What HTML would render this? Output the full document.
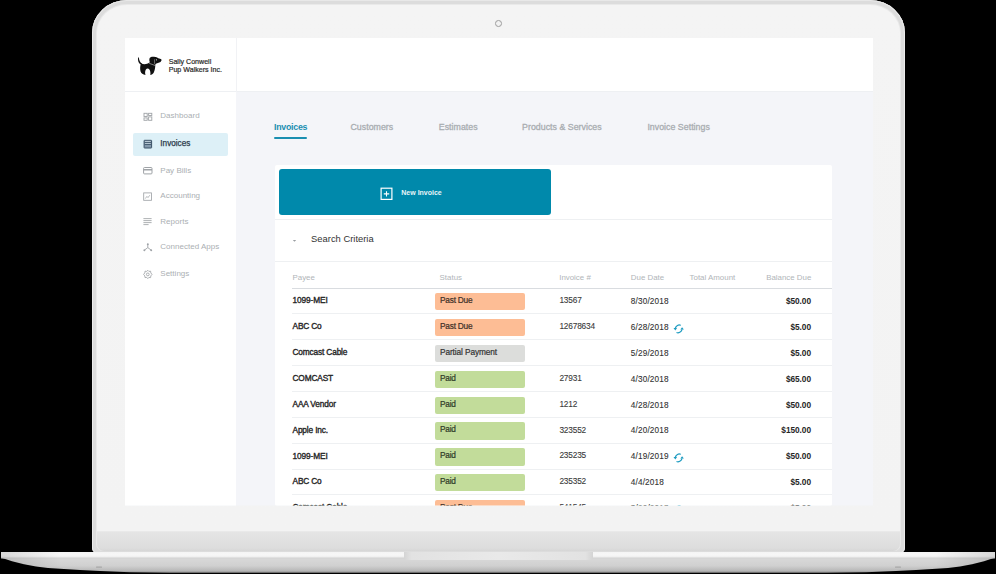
<!DOCTYPE html>
<html><head><meta charset="utf-8"><style>
html,body{margin:0;padding:0;background:#000;}
body{width:996px;height:574px;position:relative;overflow:hidden;font-family:"Liberation Sans",sans-serif;}
.r{position:absolute;}
.t{position:absolute;line-height:1;white-space:nowrap;}
</style></head><body>
<div class="r" style="left:92px;top:0px;width:813px;height:553px;background:#dcdcdc;border-radius:35px 35px 5px 5px/33px 33px 5px 5px;box-shadow:inset 1px 0 0 #ececec,inset -1px 0 0 #ececec,inset 0 1px 0 #e8e8e8;"></div>
<div class="r" style="left:96px;top:4px;width:805px;height:547px;background:#e9e9e9;border-radius:31px 31px 7px 7px/29px 29px 7px 7px;"></div>
<div class="r" style="left:97px;top:5px;width:803px;height:546px;background:linear-gradient(#f4f4f4 0,#f3f3f3 525.8px,#e5e5e5 526.8px,#dddddd 543px,#d6d6d6 546px);border-radius:30px 30px 7px 7px/28px 28px 7px 7px;"></div>
<div class="r" style="left:495.2px;top:19.9px;width:4.8px;height:4.8px;border-radius:50%;border:1px solid #9c9c9c;background:#f2f2f2;box-sizing:content-box"></div>
<div class="r" style="left:0;top:0;width:996px;height:574px;clip-path:inset(38px 123px 68.6px 125px)">
<div class="r" style="left:125px;top:38px;width:748px;height:468px;background:#f4f5f9;overflow:hidden"></div>
<div class="r" style="left:125px;top:38px;width:748px;height:53px;background:#fff"></div>
<div class="r" style="left:125px;top:91px;width:748px;height:1px;background:#eef0f3"></div>
<div class="r" style="left:236px;top:38px;width:1px;height:54px;background:#f1f2f5"></div>
<div class="r" style="left:125px;top:92px;width:111px;height:414px;background:#fff"></div>
<svg class="r" style="left:135px;top:53px" width="30" height="25" viewBox="135 53 30 25">
<path d="M138.1 57.4 C137.5 60.6 138.6 63.6 141.6 65 L142.2 63.8 C140.2 62.6 139 60.4 138.9 57.4 Z" fill="#111"/>
<path d="M141 63.5 C143.6 64.5 147 64.5 149.4 62.6 L151 61.5 L155.6 63.2 L155.3 65.4 C155.2 67.6 154.8 70.4 153.8 72.4 C153 73.9 151.6 74.8 150.3 75 C150.7 72.8 150.3 70.6 149.4 69.4 C148.5 68.3 146.7 68.3 145.9 69.5 C145 70.8 144.9 73 145.5 75 C143 74.7 141.1 73.2 140.5 71.2 C139.9 68.9 140.1 65.6 141 63.5 Z" fill="#111"/>
<path d="M149.5 58.6 C149.8 56.8 152 56.5 154 56.7 C156 56.8 157.5 57.5 158.3 58.3 L160.8 59.1 C161.9 59.5 161.7 60.8 160.9 61.6 C159.9 62.6 158.4 63 157 63.2 L155.5 63.9 C153 64.5 150.6 63.7 149.8 62.1 C149.2 61 149.3 59.7 149.5 58.6 Z" fill="#111"/>
<path d="M154.5 59.4 L154.6 63.9" stroke="#cfcfcf" stroke-width="0.45"/>
<path d="M149.2 63.3 L155.6 65.7" stroke="#d8d8d8" stroke-width="0.55"/>
<circle cx="156.4" cy="59.8" r="0.6" fill="#ddd"/>
</svg>
<div class="t" style="left:168.70px;top:59.00px;font-size:7.1px;font-weight:normal;color:#2a2a2a;-webkit-text-stroke:0.2px #2a2a2a;">Sally Conwell</div>
<div class="t" style="left:168.70px;top:67.00px;font-size:7.1px;font-weight:normal;color:#2a2a2a;-webkit-text-stroke:0.2px #2a2a2a;">Pup Walkers Inc.</div>
<div class="r" style="left:133px;top:133px;width:95px;height:23.30000000000001px;background:#ddf0f7;border-radius:2px"></div>
<div class="t" style="left:160.30px;top:112.00px;font-size:8.0px;font-weight:normal;color:#abafb3;letter-spacing:0.02px;">Dashboard</div>
<div class="t" style="left:160.30px;top:140.00px;font-size:8.2px;font-weight:normal;color:#2c3b4b;-webkit-text-stroke:0.25px #2c3b4b;">Invoices</div>
<div class="t" style="left:160.30px;top:167.00px;font-size:8.0px;font-weight:normal;color:#abafb3;letter-spacing:0.02px;">Pay Bills</div>
<div class="t" style="left:160.30px;top:192.00px;font-size:8.0px;font-weight:normal;color:#abafb3;letter-spacing:0.02px;">Accounting</div>
<div class="t" style="left:160.30px;top:218.00px;font-size:8.0px;font-weight:normal;color:#abafb3;letter-spacing:0.02px;">Reports</div>
<div class="t" style="left:160.30px;top:243.00px;font-size:8.0px;font-weight:normal;color:#abafb3;letter-spacing:0.02px;">Connected Apps</div>
<div class="t" style="left:160.30px;top:270.00px;font-size:8.0px;font-weight:normal;color:#abafb3;letter-spacing:0.02px;">Settings</div>
<svg class="r" style="left:140px;top:105px" width="16" height="180" viewBox="140 105 16 180" fill="none" stroke="#9fa3a7" stroke-width="0.9">
<rect x="144" y="113.3" width="3.2" height="3.2"/><rect x="148.6" y="113.3" width="3.2" height="2.2"/><rect x="144" y="117.9" width="3.2" height="2.4"/><rect x="148.6" y="116.9" width="3.2" height="3.4"/>
<rect x="144.1" y="140.3" width="7.5" height="7.7" rx="0.4" fill="#8499ab" stroke="#3b5166" stroke-width="1"/>
<path d="M144.6 142.5 H151.1 M144.6 144.4 H151.1" stroke="#3b5166" stroke-width="0.9"/><path d="M145 141.4 H150.7 M145 143.4 H150.7" stroke="#d6e2ea" stroke-width="0.7"/>
<rect x="143.6" y="167.5" width="8.4" height="6.4" rx="0.9" stroke-width="1"/><path d="M143.6 169.8 H152" stroke-width="1.5"/>
<rect x="143.7" y="192.9" width="7.8" height="7.4" stroke-width="0.85"/><path d="M145.3 198.6 L146.9 196.4 L148 197.6 L149.8 195.2" stroke-width="0.75"/>
<path d="M143.4 218.6 H151.6 M143.4 220.6 H151.6 M143.4 222.6 H151.6 M143.4 224.6 H148.6" stroke-width="0.85"/>
<path d="M147.8 244.5 V247.6 L144.6 250 M147.8 247.6 L151 250" stroke-width="0.9"/><circle cx="147.8" cy="244.2" r="1" fill="#9fa3a7" stroke="none"/><circle cx="144.4" cy="250.3" r="1" fill="#9fa3a7" stroke="none"/><circle cx="151.2" cy="250.3" r="1" fill="#9fa3a7" stroke="none"/>
<circle cx="147.8" cy="274.4" r="1.4" stroke-width="0.85"/><path d="M147.8 270.3 L148.9 271.4 L150.6 271.2 L150.8 272.9 L152 274.4 L150.8 275.9 L150.6 277.6 L148.9 277.4 L147.8 278.6 L146.7 277.4 L145 277.6 L144.8 275.9 L143.6 274.4 L144.8 272.9 L145 271.2 L146.7 271.4 Z" stroke-width="0.85"/>
</svg>
<div class="t" style="left:274.00px;top:123.00px;font-size:8.8px;font-weight:bold;color:#1a8fb1;letter-spacing:-0.25px;">Invoices</div>
<div class="t" style="left:350.50px;top:123.00px;font-size:8.8px;font-weight:normal;color:#a9adb1;letter-spacing:0.02px;-webkit-text-stroke:0.3px #a9adb1;">Customers</div>
<div class="t" style="left:438.80px;top:123.00px;font-size:8.8px;font-weight:normal;color:#a9adb1;letter-spacing:0.02px;-webkit-text-stroke:0.3px #a9adb1;">Estimates</div>
<div class="t" style="left:522.10px;top:123.00px;font-size:8.8px;font-weight:normal;color:#a9adb1;letter-spacing:0.02px;-webkit-text-stroke:0.3px #a9adb1;">Products &amp; Services</div>
<div class="t" style="left:647.40px;top:123.00px;font-size:8.8px;font-weight:normal;color:#a9adb1;letter-spacing:0.02px;-webkit-text-stroke:0.3px #a9adb1;">Invoice Settings</div>
<div class="r" style="left:274px;top:137px;width:33px;height:2.1999999999999886px;background:#1a8fb1;border-radius:1px"></div>
<div class="r" style="left:275px;top:165px;width:557px;height:341px;background:#fff;border-radius:2px"></div>
<div class="r" style="left:279px;top:169px;width:272px;height:46px;background:#0089ab;border-radius:3px"></div>
<svg class="r" style="left:379.5px;top:186.5px" width="13.5" height="13.5" viewBox="0 0 13.5 13.5" fill="none" stroke="#fff">
<rect x="1.1" y="1.2" width="10.8" height="11.2" stroke-width="1.2"/><path d="M6.5 4.2 V9.6 M3.8 6.9 H9.2" stroke-width="1.1"/></svg>
<div class="t" style="left:401.30px;top:189.00px;font-size:7px;font-weight:bold;color:#e8f4f8;">New Invoice</div>
<div class="r" style="left:275px;top:219px;width:557px;height:1px;background:#eef0f2"></div>
<div class="r" style="left:275px;top:261px;width:557px;height:1px;background:#eef0f2"></div>
<svg class="r" style="left:292px;top:238.5px" width="5" height="4" viewBox="0 0 5 4"><path d="M0.8 1 L4.2 1 L2.5 2.8 Z" fill="#9a9ea2"/></svg>
<div class="t" style="left:311.10px;top:234.00px;font-size:9.4px;font-weight:normal;color:#333;">Search Criteria</div>
<div class="t" style="left:292.50px;top:274.00px;font-size:7.9px;font-weight:normal;color:#b1b5b9;">Payee</div>
<div class="t" style="left:439.60px;top:274.00px;font-size:7.9px;font-weight:normal;color:#b1b5b9;">Status</div>
<div class="t" style="left:559.20px;top:274.00px;font-size:7.9px;font-weight:normal;color:#b1b5b9;">Invoice #</div>
<div class="t" style="left:630.80px;top:274.00px;font-size:7.9px;font-weight:normal;color:#b1b5b9;">Due Date</div>
<div class="t" style="left:689.60px;top:274.00px;font-size:7.9px;font-weight:normal;color:#b1b5b9;">Total Amount</div>
<div class="t" style="right:184.70px;top:274.00px;font-size:7.9px;font-weight:normal;color:#b1b5b9;">Balance Due</div>
<div class="r" style="left:292px;top:288px;width:540px;height:1.1999999999999886px;background:#d9dce0"></div>
<div class="r" style="left:292px;top:313.4px;width:540px;height:1.0px;background:#eef0f2"></div>
<div class="r" style="left:434.5px;top:293.1px;width:90.0px;height:17.399999999999977px;background:#fdbd95;border-radius:2px"></div>
<div class="t" style="left:292.50px;top:296.00px;font-size:8.3px;font-weight:normal;color:#262626;letter-spacing:-0.1px;-webkit-text-stroke:0.35px #262626;">1099-MEI</div>
<div class="t" style="left:440.00px;top:296.00px;font-size:8.3px;font-weight:normal;color:#3d3028;letter-spacing:-0.22px;-webkit-text-stroke:0.2px #3d3028;">Past Due</div>
<div class="t" style="left:559.40px;top:296.00px;font-size:8.3px;font-weight:normal;color:#3a3a3a;letter-spacing:-0.18px;-webkit-text-stroke:0.1px #3a3a3a;">13567</div>
<div class="t" style="left:630.70px;top:298.00px;font-size:8.2px;font-weight:normal;color:#333;letter-spacing:0.19px;-webkit-text-stroke:0.1px #333;">8/30/2018</div>
<div class="t" style="right:185.00px;top:297.00px;font-size:8.3px;font-weight:bold;color:#262626;letter-spacing:-0.05px;">$50.00</div>
<div class="r" style="left:292px;top:339.3px;width:540px;height:1.0px;background:#eef0f2"></div>
<div class="r" style="left:434.5px;top:319.0px;width:90.0px;height:17.399999999999977px;background:#fdbd95;border-radius:2px"></div>
<div class="t" style="left:292.50px;top:322.00px;font-size:8.3px;font-weight:normal;color:#262626;letter-spacing:-0.15px;-webkit-text-stroke:0.35px #262626;">ABC Co</div>
<div class="t" style="left:440.00px;top:322.00px;font-size:8.3px;font-weight:normal;color:#3d3028;letter-spacing:-0.22px;-webkit-text-stroke:0.2px #3d3028;">Past Due</div>
<div class="t" style="left:559.40px;top:322.00px;font-size:8.3px;font-weight:normal;color:#3a3a3a;letter-spacing:-0.18px;-webkit-text-stroke:0.1px #3a3a3a;">12678634</div>
<div class="t" style="left:630.70px;top:324.00px;font-size:8.2px;font-weight:normal;color:#333;letter-spacing:0.19px;-webkit-text-stroke:0.1px #333;">6/28/2018</div>
<svg class="r" style="left:673.3px;top:323.9px" width="12" height="11" viewBox="0 0 12 11">
<path d="M7.7 1.3 C5.5 0.4 3.1 1.6 2.3 4.3 M3.5 8.5 C5.7 9.3 8.3 8.1 9.1 5.4" fill="none" stroke="#1f9cc1" stroke-width="1.25"/>
<path d="M0.5 4.1 L4.1 4.1 L2.3 6.5 Z M7.3 5.6 L10.9 5.6 L9.1 3.2 Z" fill="#1f9cc1"/></svg>
<div class="t" style="right:185.00px;top:323.00px;font-size:8.3px;font-weight:bold;color:#262626;letter-spacing:-0.05px;">$5.00</div>
<div class="r" style="left:292px;top:365.1px;width:540px;height:1.0px;background:#eef0f2"></div>
<div class="r" style="left:434.5px;top:344.8px;width:90.0px;height:17.399999999999977px;background:#dcdddb;border-radius:2px"></div>
<div class="t" style="left:292.50px;top:348.00px;font-size:8.3px;font-weight:normal;color:#262626;letter-spacing:-0.15px;-webkit-text-stroke:0.35px #262626;">Comcast Cable</div>
<div class="t" style="left:440.00px;top:348.00px;font-size:8.3px;font-weight:normal;color:#333;letter-spacing:-0.1px;-webkit-text-stroke:0.2px #333;">Partial Payment</div>
<div class="t" style="left:630.70px;top:350.00px;font-size:8.2px;font-weight:normal;color:#333;letter-spacing:0.19px;-webkit-text-stroke:0.1px #333;">5/29/2018</div>
<div class="t" style="right:185.00px;top:349.00px;font-size:8.3px;font-weight:bold;color:#262626;letter-spacing:-0.05px;">$5.00</div>
<div class="r" style="left:292px;top:391.0px;width:540px;height:1.0px;background:#eef0f2"></div>
<div class="r" style="left:434.5px;top:370.7px;width:90.0px;height:17.400000000000034px;background:#c2dc9a;border-radius:2px"></div>
<div class="t" style="left:292.50px;top:374.00px;font-size:8.3px;font-weight:normal;color:#262626;letter-spacing:-0.15px;-webkit-text-stroke:0.35px #262626;">COMCAST</div>
<div class="t" style="left:440.00px;top:374.00px;font-size:8.3px;font-weight:normal;color:#2f3a28;letter-spacing:-0.22px;-webkit-text-stroke:0.2px #2f3a28;">Paid</div>
<div class="t" style="left:559.40px;top:374.00px;font-size:8.3px;font-weight:normal;color:#3a3a3a;letter-spacing:-0.18px;-webkit-text-stroke:0.1px #3a3a3a;">27931</div>
<div class="t" style="left:630.70px;top:376.00px;font-size:8.2px;font-weight:normal;color:#333;letter-spacing:0.19px;-webkit-text-stroke:0.1px #333;">4/30/2018</div>
<div class="t" style="right:185.00px;top:375.00px;font-size:8.3px;font-weight:bold;color:#262626;letter-spacing:-0.05px;">$65.00</div>
<div class="r" style="left:292px;top:416.8px;width:540px;height:1.0px;background:#eef0f2"></div>
<div class="r" style="left:434.5px;top:396.5px;width:90.0px;height:17.399999999999977px;background:#c2dc9a;border-radius:2px"></div>
<div class="t" style="left:292.50px;top:400.00px;font-size:8.3px;font-weight:normal;color:#262626;letter-spacing:-0.15px;-webkit-text-stroke:0.35px #262626;">AAA Vendor</div>
<div class="t" style="left:440.00px;top:400.00px;font-size:8.3px;font-weight:normal;color:#2f3a28;letter-spacing:-0.22px;-webkit-text-stroke:0.2px #2f3a28;">Paid</div>
<div class="t" style="left:559.40px;top:400.00px;font-size:8.3px;font-weight:normal;color:#3a3a3a;letter-spacing:-0.18px;-webkit-text-stroke:0.1px #3a3a3a;">1212</div>
<div class="t" style="left:630.70px;top:402.00px;font-size:8.2px;font-weight:normal;color:#333;letter-spacing:0.19px;-webkit-text-stroke:0.1px #333;">4/28/2018</div>
<div class="t" style="right:185.00px;top:401.00px;font-size:8.3px;font-weight:bold;color:#262626;letter-spacing:-0.05px;">$50.00</div>
<div class="r" style="left:292px;top:442.7px;width:540px;height:1.0px;background:#eef0f2"></div>
<div class="r" style="left:434.5px;top:422.4px;width:90.0px;height:17.400000000000034px;background:#c2dc9a;border-radius:2px"></div>
<div class="t" style="left:292.50px;top:426.00px;font-size:8.3px;font-weight:normal;color:#262626;letter-spacing:-0.15px;-webkit-text-stroke:0.35px #262626;">Apple Inc.</div>
<div class="t" style="left:440.00px;top:425.00px;font-size:8.3px;font-weight:normal;color:#2f3a28;letter-spacing:-0.22px;-webkit-text-stroke:0.2px #2f3a28;">Paid</div>
<div class="t" style="left:559.40px;top:426.00px;font-size:8.3px;font-weight:normal;color:#3a3a3a;letter-spacing:-0.18px;-webkit-text-stroke:0.1px #3a3a3a;">323552</div>
<div class="t" style="left:630.70px;top:427.00px;font-size:8.2px;font-weight:normal;color:#333;letter-spacing:0.19px;-webkit-text-stroke:0.1px #333;">4/20/2018</div>
<div class="t" style="right:185.00px;top:426.00px;font-size:8.3px;font-weight:bold;color:#262626;letter-spacing:-0.05px;">$150.00</div>
<div class="r" style="left:292px;top:468.5px;width:540px;height:1.0px;background:#eef0f2"></div>
<div class="r" style="left:434.5px;top:448.2px;width:90.0px;height:17.400000000000034px;background:#c2dc9a;border-radius:2px"></div>
<div class="t" style="left:292.50px;top:452.00px;font-size:8.3px;font-weight:normal;color:#262626;letter-spacing:-0.1px;-webkit-text-stroke:0.35px #262626;">1099-MEI</div>
<div class="t" style="left:440.00px;top:451.00px;font-size:8.3px;font-weight:normal;color:#2f3a28;letter-spacing:-0.22px;-webkit-text-stroke:0.2px #2f3a28;">Paid</div>
<div class="t" style="left:559.40px;top:451.00px;font-size:8.3px;font-weight:normal;color:#3a3a3a;letter-spacing:-0.18px;-webkit-text-stroke:0.1px #3a3a3a;">235235</div>
<div class="t" style="left:630.70px;top:453.00px;font-size:8.2px;font-weight:normal;color:#333;letter-spacing:0.19px;-webkit-text-stroke:0.1px #333;">4/19/2019</div>
<svg class="r" style="left:673.3px;top:453.1px" width="12" height="11" viewBox="0 0 12 11">
<path d="M7.7 1.3 C5.5 0.4 3.1 1.6 2.3 4.3 M3.5 8.5 C5.7 9.3 8.3 8.1 9.1 5.4" fill="none" stroke="#1f9cc1" stroke-width="1.25"/>
<path d="M0.5 4.1 L4.1 4.1 L2.3 6.5 Z M7.3 5.6 L10.9 5.6 L9.1 3.2 Z" fill="#1f9cc1"/></svg>
<div class="t" style="right:185.00px;top:452.00px;font-size:8.3px;font-weight:bold;color:#262626;letter-spacing:-0.05px;">$50.00</div>
<div class="r" style="left:292px;top:494.4px;width:540px;height:1.0px;background:#eef0f2"></div>
<div class="r" style="left:434.5px;top:474.1px;width:90.0px;height:17.399999999999977px;background:#c2dc9a;border-radius:2px"></div>
<div class="t" style="left:292.50px;top:477.00px;font-size:8.3px;font-weight:normal;color:#262626;letter-spacing:-0.15px;-webkit-text-stroke:0.35px #262626;">ABC Co</div>
<div class="t" style="left:440.00px;top:477.00px;font-size:8.3px;font-weight:normal;color:#2f3a28;letter-spacing:-0.22px;-webkit-text-stroke:0.2px #2f3a28;">Paid</div>
<div class="t" style="left:559.40px;top:477.00px;font-size:8.3px;font-weight:normal;color:#3a3a3a;letter-spacing:-0.18px;-webkit-text-stroke:0.1px #3a3a3a;">235352</div>
<div class="t" style="left:630.70px;top:479.00px;font-size:8.2px;font-weight:normal;color:#333;letter-spacing:0.19px;-webkit-text-stroke:0.1px #333;">4/4/2018</div>
<div class="t" style="right:185.00px;top:478.00px;font-size:8.3px;font-weight:bold;color:#262626;letter-spacing:-0.05px;">$5.00</div>
<div class="r" style="left:292px;top:520.3px;width:540px;height:1.0px;background:#eef0f2"></div>
<div class="r" style="left:434.5px;top:500.0px;width:90.0px;height:17.399999999999977px;background:#fdbd95;border-radius:2px"></div>
<div class="t" style="left:292.50px;top:503.00px;font-size:8.3px;font-weight:normal;color:#262626;letter-spacing:-0.15px;-webkit-text-stroke:0.35px #262626;">Comcast Cable</div>
<div class="t" style="left:440.00px;top:503.00px;font-size:8.3px;font-weight:normal;color:#3d3028;letter-spacing:-0.22px;-webkit-text-stroke:0.2px #3d3028;">Past Due</div>
<div class="t" style="left:559.40px;top:503.00px;font-size:8.3px;font-weight:normal;color:#3a3a3a;letter-spacing:-0.18px;-webkit-text-stroke:0.1px #3a3a3a;">541545</div>
<div class="t" style="left:630.70px;top:505.00px;font-size:8.2px;font-weight:normal;color:#333;letter-spacing:0.19px;-webkit-text-stroke:0.1px #333;">3/20/2018</div>
<svg class="r" style="left:673.3px;top:504.9px" width="12" height="11" viewBox="0 0 12 11">
<path d="M7.7 1.3 C5.5 0.4 3.1 1.6 2.3 4.3 M3.5 8.5 C5.7 9.3 8.3 8.1 9.1 5.4" fill="none" stroke="#1f9cc1" stroke-width="1.25"/>
<path d="M0.5 4.1 L4.1 4.1 L2.3 6.5 Z M7.3 5.6 L10.9 5.6 L9.1 3.2 Z" fill="#1f9cc1"/></svg>
<div class="t" style="right:185.00px;top:504.00px;font-size:8.3px;font-weight:bold;color:#262626;letter-spacing:-0.05px;">$5.00</div>
</div>
<svg class="r" style="left:0;top:550px" width="996" height="24" viewBox="0 550 996 24">
<defs>
<linearGradient id="bt" x1="0" y1="0" x2="0" y2="1"><stop offset="0" stop-color="#f4f4f4"/><stop offset="0.5" stop-color="#f7f7f7"/><stop offset="1" stop-color="#ececec"/></linearGradient>
<linearGradient id="bb" gradientUnits="userSpaceOnUse" x1="0" y1="557" x2="0" y2="573"><stop offset="0" stop-color="#dadada"/><stop offset="0.55" stop-color="#d0d0d0"/><stop offset="0.85" stop-color="#b8b8b8"/><stop offset="1" stop-color="#8a8a8a"/></linearGradient>
<linearGradient id="nt" x1="0" y1="0" x2="1" y2="0"><stop offset="0" stop-color="#d4d4d4"/><stop offset="0.04" stop-color="#e2e2e2"/><stop offset="0.5" stop-color="#e9e9e9"/><stop offset="0.96" stop-color="#e2e2e2"/><stop offset="1" stop-color="#d4d4d4"/></linearGradient>
<linearGradient id="eh" x1="0" y1="0" x2="1" y2="0"><stop offset="0" stop-color="#000" stop-opacity="0.12"/><stop offset="0.06" stop-color="#000" stop-opacity="0"/><stop offset="0.94" stop-color="#000" stop-opacity="0"/><stop offset="1" stop-color="#000" stop-opacity="0.12"/></linearGradient>
</defs>
<path d="M1 552 H995 V557.7 L995 557.7 L990 559.2 L984 561.3 L972 564.3 L960 566.4 L948 567.9 L936 568.8 L916 570.1 L896 571.1 L866 572.2 L826 572.8 H170 L170 572.8 L130 572.2 L100 571.1 L80 570.1 L60 568.8 L48 567.9 L36 566.4 L24 564.3 L12 561.3 L6 559.2 L1 557.7 Z" fill="url(#bb)"/>
<rect x="1" y="552" width="994" height="5.8" fill="url(#bt)"/>
<rect x="1" y="557.6" width="994" height="0.9" fill="#d2d2d2"/>
<rect x="1" y="552" width="994" height="21" fill="url(#eh)"/>
<path d="M404 552 H593 V557.5 Q593 560 590.5 560 H406.5 Q404 560 404 557.5 Z" fill="url(#nt)"/>
<rect x="96" y="566.6" width="6" height="1.1" rx="0.5" fill="#a8a8a8"/>
<rect x="895" y="566.6" width="6" height="1.1" rx="0.5" fill="#a8a8a8"/>
</svg>
</body></html>
